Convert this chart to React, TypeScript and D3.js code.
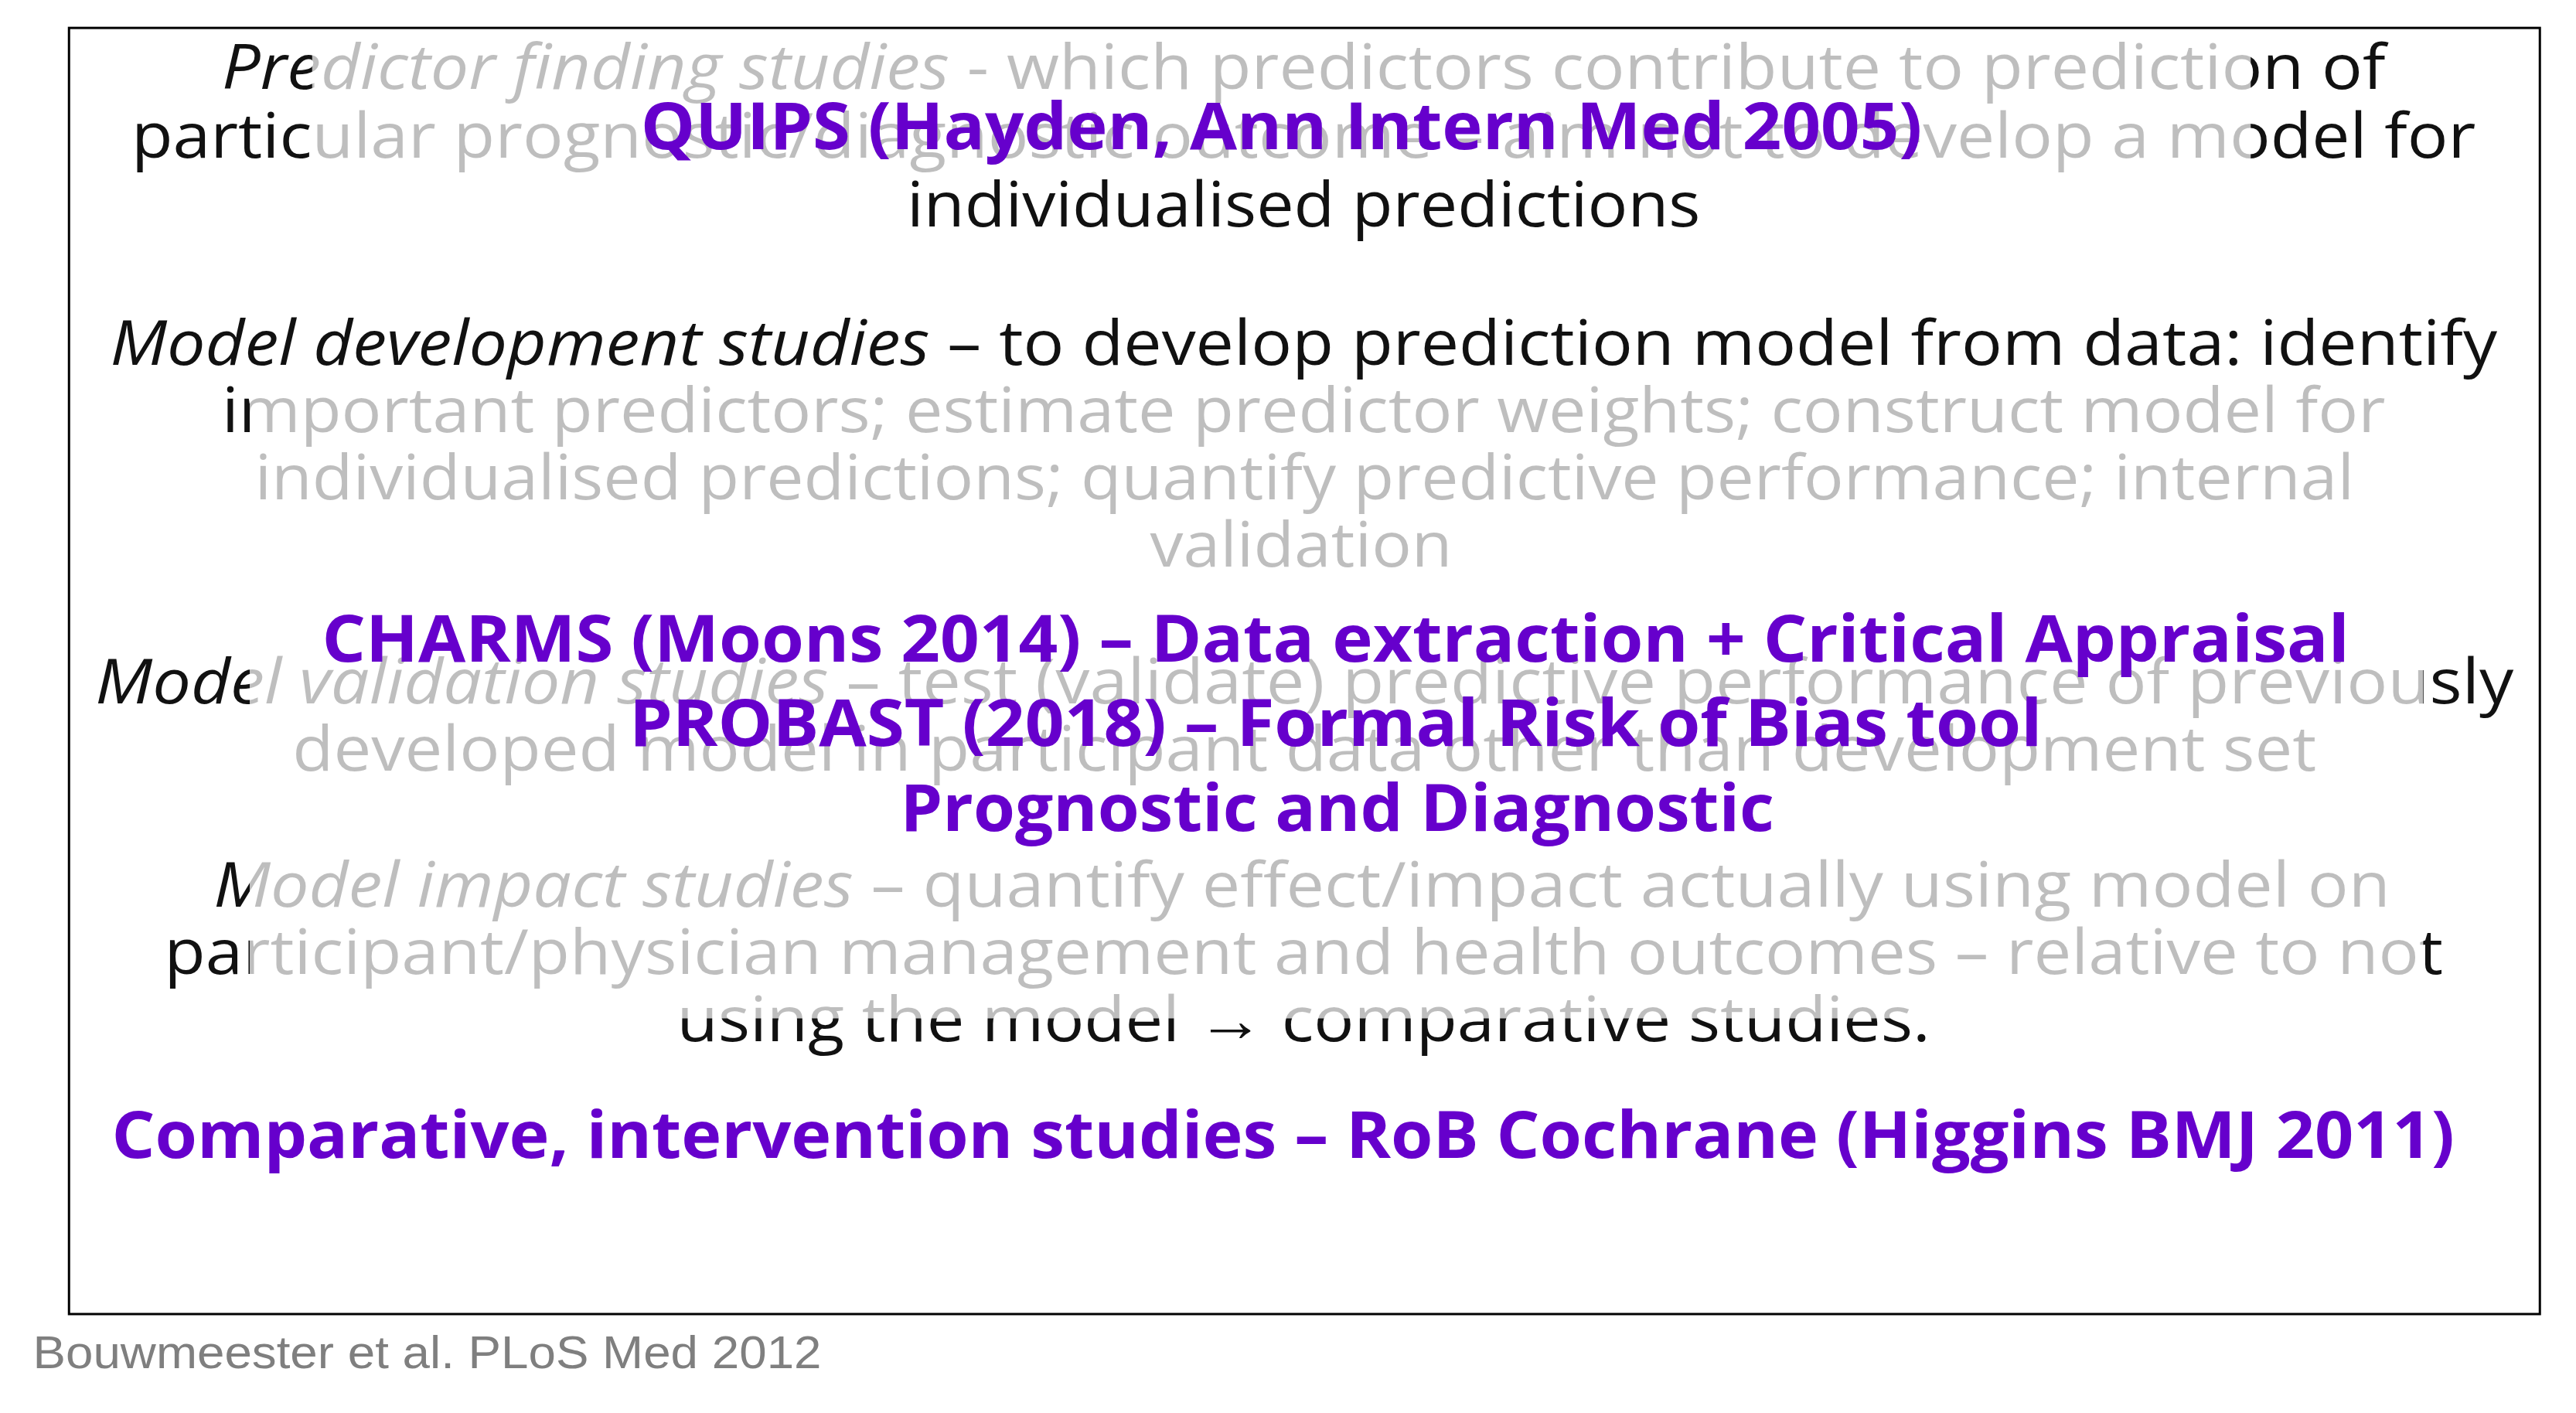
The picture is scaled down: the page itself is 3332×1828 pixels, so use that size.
import React from "react";
import * as d3 from "d3";

// each line: [italic part, normal part]
const bodyLines: [string, string][] = [
  ["Predictor finding studies", " - which predictors contribute to prediction of"],
  ["", "particular prognostic/diagnostic outcome – aim not to develop a model for"],
  ["", "individualised predictions"],
  ["Model development studies", " – to develop prediction model from data: identify"],
  ["", "important predictors; estimate predictor weights; construct model for"],
  ["", "individualised predictions; quantify predictive performance; internal"],
  ["", "validation"],
  ["Model validation studies", " – test (validate) predictive performance of previously"],
  ["", "developed model in participant data other than development set"],
  ["Model impact studies", " – quantify effect/impact actually using model on"],
  ["", "participant/physician management and health outcomes – relative to not"],
  ["", "using the model \u2192 comparative studies."],
];

const toolLabels: string[] = [
  "QUIPS (Hayden, Ann Intern Med 2005)",
  "CHARMS (Moons 2014) – Data extraction + Critical Appraisal",
  "PROBAST (2018) – Formal Risk of Bias tool",
  "Prognostic and Diagnostic",
  "Comparative, intervention studies – RoB Cochrane (Higgins BMJ 2011)",
];

// layout in slide units (1568 wide): [x0, x1, baseline]
const bodyLayout: [number, number, number][] = [
  [135, 1452, 54], [80, 1507, 96], [552, 1035, 138],
  [67, 1520, 222], [135, 1452, 263], [155, 1433, 304], [700, 884, 345],
  [58, 1530, 428], [178, 1410, 469],
  [130, 1455, 552], [100, 1487, 593], [412, 1175, 634],
];
const toolLayout: [number, number, number][] = [
  [390, 1170, 91], [196, 1430, 403], [383, 1243, 454], [548, 1080, 506], [68, 1494, 705],
];

// faded regions [x0, y0, x1, y1]
const veils: [number, number, number, number][] = [
  [190, 22, 1370, 108],
  [152, 232, 1475, 620],
];

const W = 3332;
const H = 1828;

export default function App() {
  const s = d3.scaleLinear().domain([0, 1568]).range([0, W]);
  const font = "'Open Sans', 'Noto Sans', sans-serif";
  return (
    <svg width={W} height={H} style={{ display: "block", position: "absolute", left: 0, top: 0 }}>
      <rect width={W} height={H} fill="#fff" />
      <rect x={s(42)} y={s(17)} width={s(1546) - s(42)} height={s(800) - s(17)} fill="none" stroke="#000" strokeWidth={3} />
      {bodyLines.map(([it, rest], i) => {
        const [x0, x1, y] = bodyLayout[i];
        return (
          <text key={i} x={s(x0)} y={s(y)} textLength={s(x1) - s(x0)} lengthAdjust="spacingAndGlyphs"
            fontFamily={font} fontSize={80} fill="#111">
            {it && <tspan fontStyle="italic">{it}</tspan>}
            <tspan>{rest}</tspan>
          </text>
        );
      })}
      {veils.map(([x0, y0, x1, y1], i) => (
        <rect key={i} x={s(x0)} y={s(y0)} width={s(x1) - s(x0)} height={s(y1) - s(y0)} fill="#fff" opacity={0.73} />
      ))}
      {toolLabels.map((t, i) => {
        const [x0, x1, y] = toolLayout[i];
        return (
          <text key={i} x={s(x0)} y={s(y)} textLength={s(x1) - s(x0)} lengthAdjust="spacingAndGlyphs"
            fontFamily={font} fontWeight={700} fontSize={84} fill="#6600cc">
            {t}
          </text>
        );
      })}
      <text x={s(20)} y={s(833)} textLength={s(500) - s(20)} lengthAdjust="spacingAndGlyphs"
        fontFamily="'Liberation Sans', Arial, sans-serif" fontSize={60} fill="#7f7f7f">
        Bouwmeester et al. PLoS Med 2012
      </text>
    </svg>
  );
}
